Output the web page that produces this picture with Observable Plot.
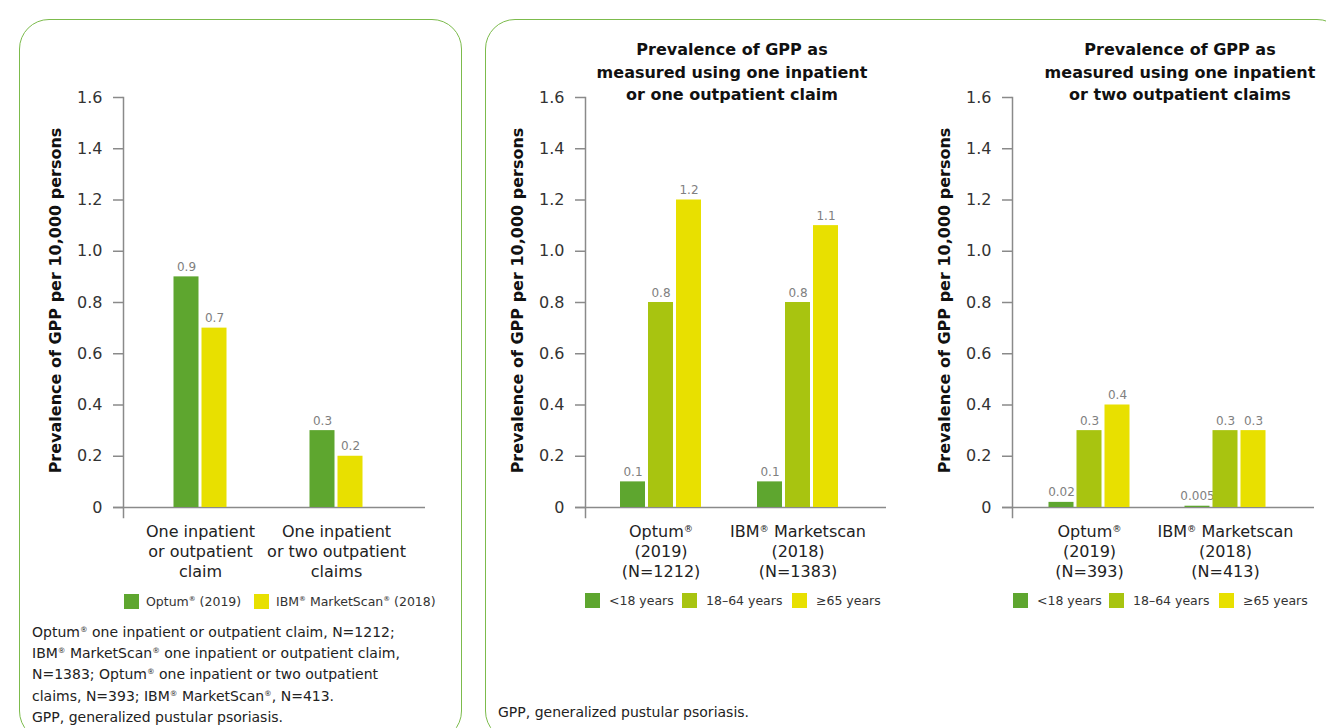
<!DOCTYPE html>
<html>
<head>
<meta charset="utf-8">
<script src="https://cdn.jsdelivr.net/npm/d3@7"></script>
<script src="https://cdn.jsdelivr.net/npm/@observablehq/plot@0.6"></script>
<style>
  html, body { margin: 0; padding: 0; background: #fff; }
  body { width: 1326px; height: 728px; overflow: hidden; position: relative; font-family: "DejaVu Sans", sans-serif; color: #222; }
  .box { position: absolute; border: 1.5px solid #7cbb4c; border-radius: 30px; box-sizing: border-box; }
  .chart { position: absolute; top: 0; }
  .title { position: absolute; width: 320px; text-align: center; font-weight: bold; font-size: 16px; line-height: 22.5px; color: #111; top: 39px; }
  .sw { position: absolute; width: 15px; height: 15px; }
  .lg { position: absolute; font-size: 12.5px; color: #333; white-space: nowrap; line-height: 16px; }
  sup { font-size: 0.55em; vertical-align: 0.7em; line-height: 0; }
  .note { position: absolute; font-size: 14px; line-height: 21.2px; color: #222; white-space: nowrap; }
</style>
</head>
<body>
<div class="box" style="left:19px; top:19px; width:443px; height:722px;"></div>
<div class="box" style="left:485px; top:19px; width:862px; height:722px;"></div>

<div class="title" style="left:572px;">Prevalence of GPP as<br>measured using one inpatient<br>or one outpatient claim</div>
<div class="title" style="left:1020px;">Prevalence of GPP as<br>measured using one inpatient<br>or two outpatient claims</div>

<div id="left" class="chart" style="left:0px;"></div>
<div id="mid" class="chart" style="left:490px;"></div>
<div id="right" class="chart" style="left:915px;"></div>

<div id="legends"></div>

<div class="note" style="left:32px; top:622px;">Optum<sup>®</sup> one inpatient or outpatient claim, N=1212;<br>IBM<sup>®</sup> MarketScan<sup>®</sup> one inpatient or outpatient claim,<br>N=1383; Optum<sup>®</sup> one inpatient or two outpatient<br>claims, N=393; IBM<sup>®</sup> MarketScan<sup>®</sup>, N=413.<br>GPP, generalized pustular psoriasis.</div>
<div class="note" style="left:498px; top:702px;">GPP, generalized pustular psoriasis.</div>

<script>
// ---------- DATA ----------
const yTicks = [0, 0.2, 0.4, 0.6, 0.8, 1.0, 1.2, 1.4, 1.6];
const yLabel = "Prevalence of GPP per 10,000 persons";

// Left panel: claim definition x database
const leftCategories = ["One inpatient\nor outpatient\nclaim", "One inpatient\nor two outpatient\nclaims"];
const leftSeries = ["Optum® (2019)", "IBM® MarketScan® (2018)"];
const leftOptum = [0.9, 0.3];
const leftIBM = [0.7, 0.2];

// Age groups
const ageGroups = ["<18 years", "18–64 years", "≥65 years"];

// Middle panel: one inpatient or one outpatient claim
const midCategories = ["Optum®\n(2019)\n(N=1212)", "IBM® Marketscan\n(2018)\n(N=1383)"];
const midUnder18 = [0.1, 0.1];
const mid18to64 = [0.8, 0.8];
const mid65plus = [1.2, 1.1];

// Right panel: one inpatient or two outpatient claims
const rightCategories = ["Optum®\n(2019)\n(N=393)", "IBM® Marketscan\n(2018)\n(N=413)"];
const rightUnder18 = [0.02, 0.005];
const right18to64 = [0.3, 0.3];
const right65plus = [0.4, 0.3];

const colors2 = ["#5ea62f", "#e8e000"];
const colors3 = ["#5ea62f", "#a8c410", "#e8e000"];

// ---------- CHART BUILDER ----------
function superscriptR(root) {
  root.querySelectorAll("text, tspan").forEach(el => {
    [...el.childNodes].forEach(node => {
      if (node.nodeType === 3 && node.nodeValue.includes("®")) {
        const parts = node.nodeValue.split("®");
        const frag = document.createDocumentFragment();
        parts.forEach((p, k) => {
          if (k > 0) {
            const t = document.createElementNS("http://www.w3.org/2000/svg", "tspan");
            t.style.baselineShift = "super";
            t.style.fontSize = "58%";
            t.textContent = "®";
            frag.appendChild(t);
          }
          if (p) frag.appendChild(document.createTextNode(p));
        });
        el.replaceChild(frag, node);
      }
    });
  });
}

function groupedChart({categories, series, values, colors, width, marginLeft, marginRight, xInsetLeft, xInsetRight}) {
  const height = 590, marginTop = 97, marginBottom = 73;
  const frameW = width - marginLeft - marginRight;
  const bandwidth = (frameW - xInsetLeft - xInsetRight) / categories.length;
  const barW = 25, step = 28;
  const n = series.length;
  const rows = [];
  series.forEach((s, i) => categories.forEach((c, j) => rows.push({cat: c, series: s, i, value: values[i][j]})));
  const marks = [
    Plot.frame({anchor: "left", stroke: "#8a8a8a", strokeWidth: 1.5}),
    Plot.ruleY([0], {stroke: "#8a8a8a", strokeWidth: 1.5, insetLeft: -10})
  ];
  series.forEach((s, i) => {
    const off = (i - (n - 1) / 2) * step;
    const data = rows.filter(r => r.i === i);
    marks.push(Plot.barY(data, {
      x: "cat", y: "value", fill: colors[i],
      insetLeft: bandwidth / 2 + off - barW / 2,
      insetRight: bandwidth / 2 - off - barW / 2
    }));
    marks.push(Plot.text(data, {
      x: "cat", y: "value", text: d => String(d.value), dx: off, dy: -6,
      lineAnchor: "bottom", fill: "#808080", fontSize: 12
    }));
  });
  marks.push(Plot.axisY({ticks: yTicks, tickSize: 10, tickPadding: 11, stroke: "#8a8a8a", strokeWidth: 1.5,
    fill: "#333", fontSize: 16, label: null, tickFormat: d => d === 0 ? "0" : d.toFixed(1)}));
  marks.push(Plot.axisX({tickSize: 0, tickPadding: 5, fill: "#222", fontSize: 16, lineHeight: 1.25, label: null}));
  marks.push(Plot.text([yLabel], {text: d => d, frameAnchor: "left", textAnchor: "middle", rotate: -90, dx: -68, dy: -7,
    fontWeight: "bold", fontSize: 16, fill: "#111"}));
  const svg = Plot.plot({
    width, height, marginLeft, marginRight, marginTop, marginBottom,
    style: {fontFamily: "DejaVu Sans, sans-serif", fontSize: "16px", background: "transparent", overflow: "visible"},
    x: {type: "band", domain: categories, padding: 0, insetLeft: xInsetLeft, insetRight: xInsetRight, axis: null},
    y: {domain: [0, 1.6], insetBottom: 10, axis: null},
    marks
  });
  superscriptR(svg);
  return svg;
}

document.getElementById("left").appendChild(groupedChart({
  categories: leftCategories, series: leftSeries, values: [leftOptum, leftIBM], colors: colors2,
  width: 460, marginLeft: 123, marginRight: 35, xInsetLeft: 8.5, xInsetRight: 21.5
}));
document.getElementById("mid").appendChild(groupedChart({
  categories: midCategories, series: ageGroups, values: [midUnder18, mid18to64, mid65plus], colors: colors3,
  width: 426, marginLeft: 95, marginRight: 30, xInsetLeft: 7, xInsetRight: 20
}));
document.getElementById("right").appendChild(groupedChart({
  categories: rightCategories, series: ageGroups, values: [rightUnder18, right18to64, right65plus], colors: colors3,
  width: 411, marginLeft: 97, marginRight: 12, xInsetLeft: 8.5, xInsetRight: 21.5
}));

// ---------- LEGENDS ----------
function legend(names, cols, swatchXs, textOffset, top) {
  const host = document.getElementById("legends");
  names.forEach((name, i) => {
    const sw = document.createElement("div");
    sw.className = "sw";
    sw.style.left = swatchXs[i] + "px";
    sw.style.top = top + "px";
    sw.style.background = cols[i];
    host.appendChild(sw);
    const t = document.createElement("div");
    t.className = "lg";
    t.style.left = (swatchXs[i] + textOffset) + "px";
    t.style.top = (top - 0.5) + "px";
    t.innerHTML = name.replace(/®/g, "<sup>®</sup>");
    host.appendChild(t);
  });
}
legend(leftSeries, colors2, [124, 254], 22, 594);
legend(ageGroups, colors3, [585, 682, 792], 24, 593);
legend(ageGroups, colors3, [1013, 1109, 1219], 24, 593);
</script>
</body>
</html>
